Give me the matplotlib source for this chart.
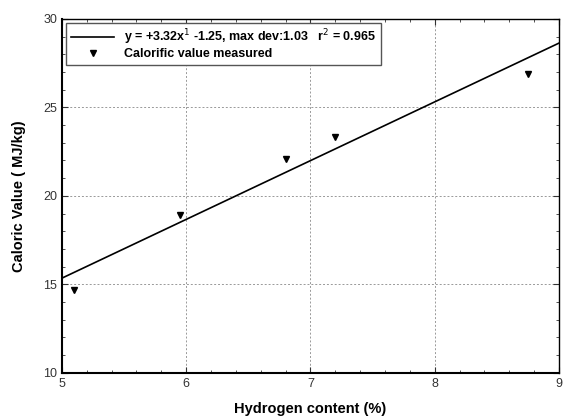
import numpy as np
from matplotlib import pyplot as plt

plt.rcParams['font.family'] = ['Liberation Sans', 'DejaVu Sans']

# measured points
hydrogen = [5.1, 5.95, 6.8, 7.2, 8.75]
calorific = [14.7, 18.9, 22.1, 23.3, 26.9]

# fit y = a*x + b
slope = 3.32
intercept = -1.25
fit_x = [5, 9]

fig = plt.figure(figsize=(5.63, 4.18), dpi=100)
ax = fig.add_axes([0.110, 0.108, 0.883, 0.847])

fx = np.array(fit_x)
ax.plot(fx, slope * fx + intercept, color='black', lw=1.2,
        label=r'y = +3.32x$^1$ -1.25, max dev:1.03   r$^2$ = 0.965')
ax.plot(hydrogen, calorific, linestyle='none', marker='v', color='black', ms=5,
        label='Calorific value measured')

ax.set_xlim(5, 9)
ax.set_ylim(10, 30)
ax.set_xticks([5, 6, 7, 8, 9])
ax.set_yticks([10, 15, 20, 25, 30])
ax.set_xticks(np.arange(5, 9.01, 0.2), minor=True)
ax.set_yticks(np.arange(10, 30.01, 1), minor=True)
ax.tick_params(which='both', direction='in', top=True, right=True, labelsize=9, colors='#333333')
ax.tick_params(which='major', length=4)
ax.tick_params(which='minor', length=2.5)
ax.grid(True, which='major', linestyle=(0, (2, 2)), color='#999999', lw=0.7)

for s in ['left', 'bottom']:
    ax.spines[s].set_linewidth(1.5)
for s in ['top', 'right']:
    ax.spines[s].set_linewidth(1.0)

ax.set_xlabel('Hydrogen content (%)', fontweight='bold', fontsize=10.5, labelpad=9)
ax.set_ylabel('Caloric Value ( MJ/kg)', fontweight='bold', fontsize=10.5, labelpad=12)

leg = ax.legend(loc='upper left', prop={'weight': 'bold', 'size': 9},
                fancybox=False, edgecolor='#555555', framealpha=1,
                borderaxespad=0.3, handlelength=3.5, labelspacing=0.1)
leg.get_frame().set_linewidth(1.0)

plt.savefig('out.png', dpi=100)
